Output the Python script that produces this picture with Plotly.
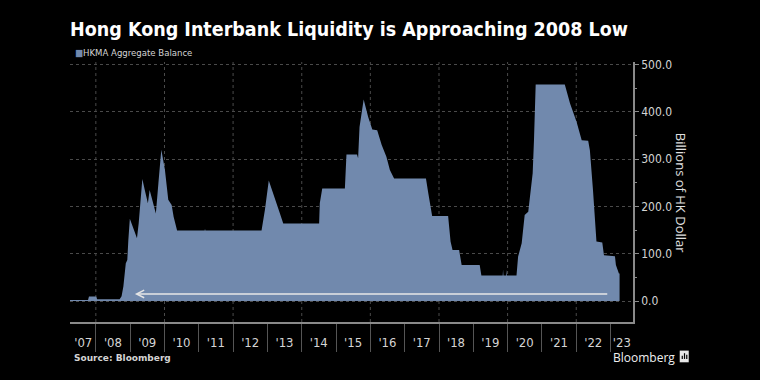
import plotly.graph_objects as go

# ---- data ----
dates = [
    "2007-03-01", "2007-10-10", "2007-10-20", "2008-01-05", "2008-01-15",
    "2008-09-10", "2008-10-01", "2008-10-20", "2008-11-15", "2008-12-01",
    "2008-12-12", "2008-12-28", "2009-02-10", "2009-03-14", "2009-04-01",
    "2009-05-10", "2009-06-05", "2009-07-08", "2009-07-27", "2009-08-25",
    "2009-10-01", "2009-10-28", "2009-11-28", "2010-01-05", "2010-02-10",
    "2010-03-18", "2010-04-08", "2010-05-15", "2011-03-05", "2011-03-08",
    "2011-03-12", "2012-10-30", "2012-12-05", "2013-01-15", "2013-03-03",
    "2013-04-08", "2013-05-12", "2013-06-18", "2014-07-05", "2014-07-12",
    "2014-08-07", "2015-04-05", "2015-04-22", "2015-08-12", "2015-08-24",
    "2015-09-08", "2015-10-22", "2015-12-09", "2016-01-22", "2016-03-14",
    "2016-05-01", "2016-06-20", "2016-07-27", "2016-09-10", "2017-08-15",
    "2017-09-09", "2017-10-20", "2018-04-08", "2018-05-04", "2018-05-25",
    "2018-08-03", "2018-08-30", "2019-03-10", "2019-03-28", "2019-11-10",
    "2019-11-14", "2019-11-18", "2019-12-18", "2019-12-22", "2019-12-26",
    "2020-04-05", "2020-04-22", "2020-05-30", "2020-07-01", "2020-08-08",
    "2020-09-02", "2020-09-24", "2020-10-08", "2020-10-26", "2021-09-01",
    "2021-10-27", "2022-01-04", "2022-02-28", "2022-05-08", "2022-05-26",
    "2022-06-28", "2022-08-04", "2022-10-05", "2022-10-23", "2023-02-17",
    "2023-02-27", "2023-03-31", "2023-04-07",
]
balance = [
    2, 2, 9.5, 9.5, 4,
    4, 10, 31, 80, 87,
    129, 174, 150, 133, 164,
    258, 235, 207, 235, 214,
    185, 249, 320, 278, 214,
    203, 178, 149, 149, 153,
    149, 149, 193, 255, 228,
    210, 186, 164, 164, 207,
    238, 238, 310, 310, 302,
    368, 426, 389, 363, 361,
    330, 305, 277, 259, 259,
    228, 180, 180, 126, 108,
    108, 76, 76, 54, 54,
    66, 54, 54, 66, 54,
    54, 94, 122, 182, 189,
    228, 270, 340, 458, 458,
    418, 379, 340, 339, 319,
    235, 126, 124, 97, 95,
    76, 58, 58,
]

year_labels = ["'07", "'08", "'09", "'10", "'11", "'12", "'13", "'14", "'15",
               "'16", "'17", "'18", "'19", "'20", "'21", "'22", "'23"]
label_dates = ["2007-08-20", "2008-07-01", "2009-07-01", "2010-07-01", "2011-07-01",
               "2012-07-01", "2013-07-01", "2014-07-01", "2015-07-01", "2016-07-01",
               "2017-07-01", "2018-07-01", "2019-07-01", "2020-07-01", "2021-07-01",
               "2022-07-01", "2023-05-01"]
year_starts = [f"{y}-01-01" for y in range(2008, 2024)]
grid_years = [f"{y}-01-01" for y in range(2008, 2023, 2)]
y_ticks = [0, 100, 200, 300, 400, 500]

arrow_from = "2022-12-13"
arrow_to = "2009-02-20"
arrow_level = 15

FILL = "#7189ad"
GRID = "#4a4a4a"
AXIS = "#8a8a8a"
TXT = "#d4d4d4"
NARROW = "Liberation Sans Narrow, DejaVu Sans Condensed, Roboto, sans-serif"

fig = go.Figure()
fig.add_trace(go.Scatter(
    x=dates, y=balance, mode="lines", fill="tozeroy",
    line=dict(width=0, color=FILL), fillcolor=FILL,
    name="HKMA Aggregate Balance", showlegend=False, hoverinfo="skip",
))

shapes = []
for g in grid_years:
    shapes.append(dict(type="line", xref="x", yref="paper", x0=g, x1=g, y0=0, y1=1,
                       line=dict(color=GRID, width=1, dash="dot"), layer="below"))

# Bloomberg logo mark
shapes.append(dict(type="rect", xref="paper", yref="paper",
                   x0=1.083, x1=1.099, y0=-0.155, y1=-0.110,
                   fillcolor="#e8e8e8", line=dict(width=0)))
for bx, bh in [(1.0875, 0.012), (1.0915, 0.022), (1.0955, 0.016)]:
    shapes.append(dict(type="line", xref="paper", yref="paper",
                       x0=bx, x1=bx, y0=-0.142, y1=-0.142 + bh,
                       line=dict(color="#000", width=1.2)))

annotations = [
    dict(x=arrow_to, y=arrow_level, ax=arrow_from, ay=arrow_level,
         xref="x", yref="y", axref="x", ayref="y", text="", showarrow=True,
         arrowhead=5, arrowsize=1, arrowwidth=1.5, arrowcolor="#e6e6e6"),
    dict(xref="paper", yref="paper", x=0.005, y=1.038, xanchor="left", yanchor="middle",
         text=f"<span style='color:{FILL}'>■</span>HKMA Aggregate Balance",
         showarrow=False, font=dict(family=NARROW, size=9.5, color=TXT)),
    dict(xref="paper", yref="paper", x=1.0865, y=0.498, xanchor="center", yanchor="middle",
         text="Billions of HK Dollar", textangle=90, showarrow=False,
         font=dict(family="Open Sans, DejaVu Sans, sans-serif", size=13, color="#e0e0e0")),
    dict(xref="paper", yref="paper", x=0.004, y=-0.138, xanchor="left", yanchor="middle",
         text="<b>Source: Bloomberg</b>", showarrow=False,
         font=dict(family="DejaVu Sans, sans-serif", size=9, color=TXT)),
    dict(xref="paper", yref="paper", x=0.961, y=-0.136, xanchor="left", yanchor="middle",
         text="Bloomberg", showarrow=False,
         font=dict(family="Open Sans, DejaVu Sans, sans-serif", size=12, color="#f0f0f0")),
]

fig.update_layout(
    width=760, height=380, autosize=False,
    margin=dict(l=70, r=127, t=62, b=58),
    paper_bgcolor="#000", plot_bgcolor="#000",
    title=dict(text="<b>Hong Kong Interbank Liquidity is Approaching 2008 Low</b>",
               x=70 / 760, xanchor="left", xref="container",
               y=1 - 29 / 380, yanchor="middle", yref="container",
               font=dict(family=NARROW, size=19.5, color="#ffffff")),
    shapes=shapes, annotations=annotations, showlegend=False,
    xaxis=dict(
        type="date", range=["2007-04-01", "2023-08-28"],
        tickmode="array", tickvals=label_dates, ticktext=year_labels,
        ticks="outside", ticklen=8, tickcolor="rgba(0,0,0,0)",
        tickfont=dict(family=NARROW, size=13, color=TXT),
        showgrid=False, zeroline=False, showline=True, linecolor=AXIS, linewidth=1.5,
        minor=dict(tickmode="array", tickvals=year_starts, ticks="outside",
                   ticklen=28, tickcolor="#555", tickwidth=1, showgrid=False),
    ),
    yaxis=dict(
        side="right", range=[-44.3, 505.5],
        tickmode="array", tickvals=y_ticks, tickformat=".1f",
        ticks="outside", ticklen=4, tickcolor=AXIS,
        tickfont=dict(family=NARROW, size=12, color=TXT),
        showgrid=True, gridcolor=GRID, griddash="dot", gridwidth=1,
        zeroline=False, showline=True, linecolor=AXIS, linewidth=1.5,
        minor=dict(dtick=50, tick0=0, ticks="outside", ticklen=2, tickcolor=AXIS, showgrid=False),
    ),
)

fig.write_html(
    "out.html",
    config={"displayModeBar": False},
    post_script="document.body.style.margin='0';document.body.style.background='#000';",
)
